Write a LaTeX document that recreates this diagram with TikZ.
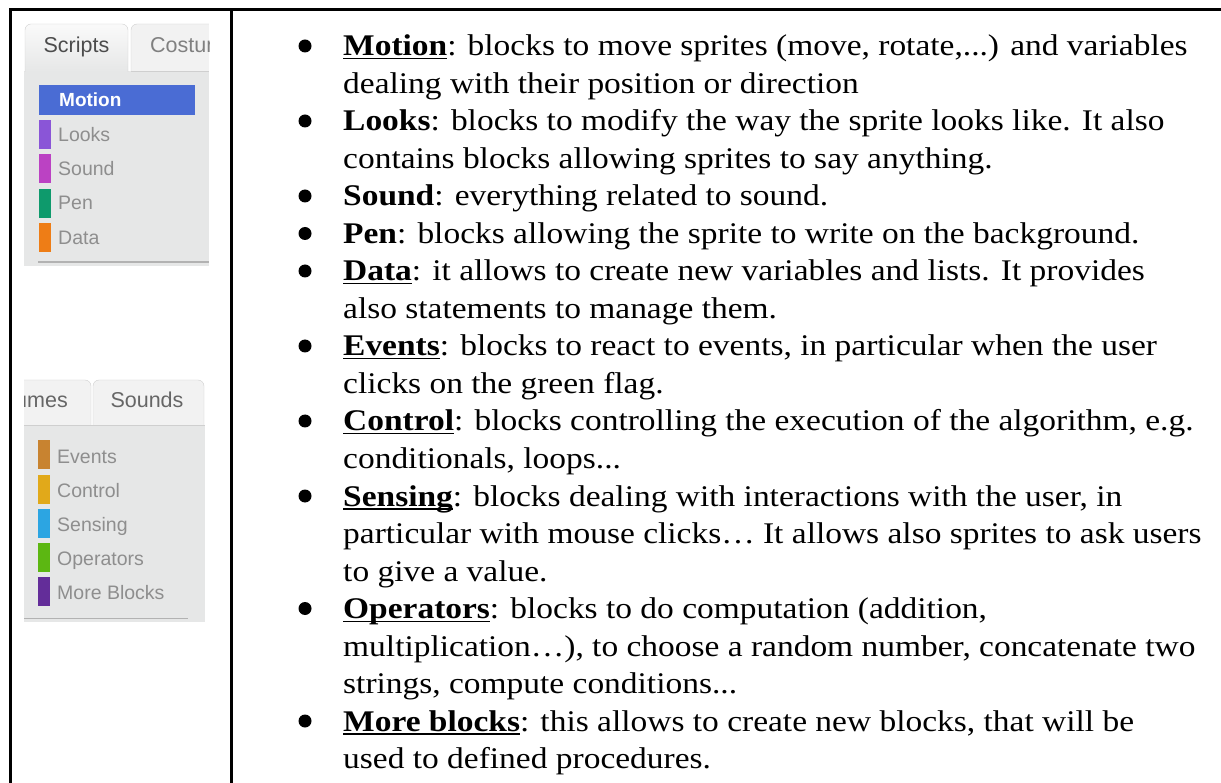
\documentclass[tikz,border=0pt]{standalone}
\usepackage{fontspec}
\setmainfont{Liberation Serif}[FakeStretch=1.115]
\setsansfont{Liberation Sans}
\usepackage{xcolor}
\definecolor{motionblue}{HTML}{4A6CD4}
\definecolor{looksc}{HTML}{8A55D7}
\definecolor{soundc}{HTML}{BB42C3}
\definecolor{penc}{HTML}{0E9A6C}
\definecolor{datac}{HTML}{EE7D16}
\definecolor{eventsc}{HTML}{C88330}
\definecolor{controlc}{HTML}{E1A91A}
\definecolor{sensingc}{HTML}{2CA5E2}
\definecolor{operatorsc}{HTML}{5CB712}
\definecolor{moreblocksc}{HTML}{632D99}
\definecolor{panelgray}{HTML}{E6E7E7}
\definecolor{tabgray}{HTML}{F2F2F2}
\definecolor{edgegray}{HTML}{CFCFCF}
\definecolor{labelgray}{HTML}{8E8E8E}
\newcommand\ulname[1]{\setbox0\hbox{\textbf{#1}}\rlap{\rule[-3.5pt]{\wd0}{1.5pt}}\box0}

\begin{document}
\begin{tikzpicture}[x=1pt,y=-1pt,
  entry/.style={anchor=base west,inner sep=0pt,font=\fontsize{30}{36}\selectfont},
  dot/.style={circle,fill=black,inner sep=0pt,minimum size=13pt},
  cat/.style={anchor=base west,inner sep=0pt,text=labelgray,font=\sffamily\fontsize{19.5}{22}\selectfont},
  tab/.style={anchor=base,inner sep=0pt,font=\sffamily\fontsize{21.5}{24}\selectfont},
  bar/.style={inner sep=0pt,minimum width=12pt,minimum height=29pt,anchor=north west},
  frame/.style={line width=3pt,black}]
\useasboundingbox (0,0) rectangle (1221,783);

\draw[frame] (10.5,783) -- (10.5,9.5) -- (1221,9.5);
\draw[frame] (231.7,9.5) -- (231.7,783);

\fill[panelgray] (24,71) rectangle (209,266);
\draw[edgegray,fill=tabgray] (131,71) -- (131,30) [rounded corners=6pt] -- (131,24) -- (215,24) -- (215,71);
\draw[edgegray] (131,71) -- (209,71);
\shade[top color=tabgray!40!white,bottom color=panelgray,draw=edgegray,rounded corners=6pt] (25,72) -- (25,24) -- (128,24) -- (128,72);
\fill[white] (209,20) rectangle (230,80);
\node[tab,text=black!70] (scriptstab) at (76.5,53) {Scripts};
\begin{scope}
\clip (131,20) rectangle (209,70);
\node[tab,anchor=base west,text=black!50] (costumestab) at (150,53) {Costumes};
\end{scope}
\node[fill=motionblue,inner sep=0pt,minimum width=156pt,minimum height=30pt,anchor=north west] (motionbar) at (39,85) {};
\node[anchor=base west,inner sep=0pt,text=white,font=\sffamily\bfseries\fontsize{19}{22}\selectfont] (motionlbl) at (59,107) {Motion};
\node[bar,fill=looksc] (looksbar) at (39,120) {};
\node[bar,fill=soundc] (soundbar) at (39,154) {};
\node[bar,fill=penc] (penbar) at (39,188.5) {};
\node[bar,fill=datac] (databar) at (39,223) {};
\node[cat] (lookslbl) at (58,142) {Looks};
\node[cat] (soundlbl) at (58,176) {Sound};
\node[cat] (penlbl) at (58,210) {Pen};
\node[cat] (datalbl) at (58,244.5) {Data};
\draw[black!30,line width=1.5pt] (38,262) -- (209,262);

\fill[panelgray] (24,425) rectangle (205,622);
\begin{scope}
\clip (24,370) rectangle (205,430);
\draw[edgegray,fill=tabgray,rounded corners=6pt] (10,425) -- (10,380) -- (91,380) -- (91,425);
\draw[edgegray,fill=tabgray,rounded corners=6pt] (93,425) -- (93,380) -- (204,380) -- (204,425);
\draw[edgegray] (24,425) -- (205,425);
\node[tab,anchor=base east,text=black!60] (costumestab2) at (68,408) {Costumes};
\end{scope}
\node[tab,text=black!60] (soundstab) at (147,408) {Sounds};
\node[bar,fill=eventsc] (eventsbar) at (37.5,440) {};
\node[bar,fill=controlc] (controlbar) at (37.5,474.5) {};
\node[bar,fill=sensingc] (sensingbar) at (37.5,509) {};
\node[bar,fill=operatorsc] (operatorsbar) at (37.5,543) {};
\node[bar,fill=moreblocksc] (moreblocksbar) at (37.5,577) {};
\node[cat] (eventslbl) at (57,463) {Events};
\node[cat] (controllbl) at (57,497) {Control};
\node[cat] (sensinglbl) at (57,531) {Sensing};
\node[cat] (operatorslbl) at (57,565.5) {Operators};
\node[cat] (moreblockslbl) at (57,599.5) {More Blocks};
\draw[black!30,line width=1.5pt] (24,618.5) -- (188,618.5);

\node[dot] (b1) at (305,46) {};
\node[dot] (b2) at (305,121) {};
\node[dot] (b3) at (305,196) {};
\node[dot] (b4) at (305,233.5) {};
\node[dot] (b5) at (305,271) {};
\node[dot] (b6) at (305,346) {};
\node[dot] (b7) at (305,421) {};
\node[dot] (b8) at (305,496) {};
\node[dot] (b9) at (305,608.5) {};
\node[dot] (b10) at (305,721) {};

\node[entry] (l1) at (343,56) {\ulname{Motion}: blocks to move sprites (move, rotate,...) and variables};
\node[entry] (l2) at (343,93.5) {dealing with their position or direction};
\node[entry] (l3) at (343,131) {\textbf{Looks}: blocks to modify the way the sprite looks like. It also};
\node[entry] (l4) at (343,168.5) {contains blocks allowing sprites to say anything.};
\node[entry] (l5) at (343,206) {\textbf{Sound}: everything related to sound.};
\node[entry] (l6) at (343,243.5) {\textbf{Pen}: blocks allowing the sprite to write on the background.};
\node[entry] (l7) at (343,281) {\ulname{Data}: it allows to create new variables and lists. It provides};
\node[entry] (l8) at (343,318.5) {also statements to manage them.};
\node[entry] (l9) at (343,356) {\ulname{Events}: blocks to react to events, in particular when the user};
\node[entry] (l10) at (343,393.5) {clicks on the green flag.};
\node[entry] (l11) at (343,431) {\ulname{Control}: blocks controlling the execution of the algorithm, e.g.};
\node[entry] (l12) at (343,468.5) {conditionals, loops...};
\node[entry] (l13) at (343,506) {\ulname{Sensing}: blocks dealing with interactions with the user, in};
\node[entry] (l14) at (343,543.5) {particular with mouse clicks… It allows also sprites to ask users};
\node[entry] (l15) at (343,581) {to give a value.};
\node[entry] (l16) at (343,618.5) {\ulname{Operators}: blocks to do computation (addition,};
\node[entry] (l17) at (343,656) {multiplication…), to choose a random number, concatenate two};
\node[entry] (l18) at (343,693.5) {strings, compute conditions...};
\node[entry] (l19) at (343,731) {\ulname{More blocks}: this allows to create new blocks, that will be};
\node[entry] (l20) at (343,768.5) {used to defined procedures.};
\end{tikzpicture}
\end{document}
